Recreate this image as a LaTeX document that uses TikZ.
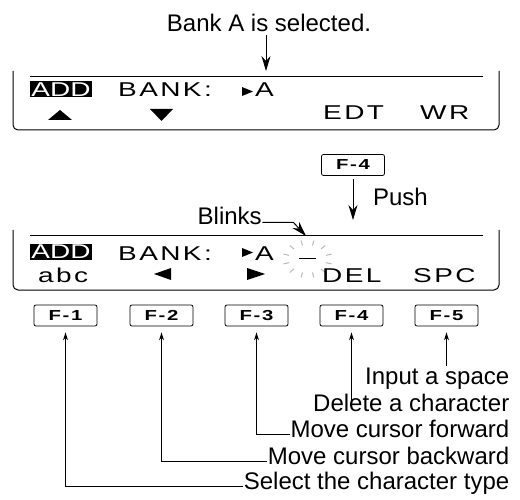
\documentclass[tikz,border=0pt]{standalone}
\usepackage{fontspec}
\setmainfont{Liberation Sans}
\newfontfamily\lcdfont[FakeStretch=1.4,LetterSpace=12]{Liberation Sans}
\newfontfamily\addfont[FakeStretch=1.4]{Liberation Sans}
\usetikzlibrary{positioning, arrows.meta, calc}

\begin{document}
\begin{tikzpicture}[
  x=1pt, y=-1pt,
  >=Stealth,
  note/.style={font=\fontsize{24}{28}\selectfont, inner sep=0.5pt,
               text height=0.72em, text depth=0.2em},
  lcd/.style={font=\lcdfont\fontsize{20}{22}\selectfont,
              inner sep=0pt, anchor=base west},
  addbox/.style={fill=black, text=white, inner sep=0pt,
                 font=\addfont\fontsize{20}{22}\selectfont,
                 minimum width=62pt, minimum height=16pt},
  fkey/.style={draw, rounded corners=2pt, line width=0.8pt,
               minimum width=63pt, minimum height=21pt, inner sep=0pt,
               font=\lcdfont\bfseries\fontsize{14.5}{16}\selectfont},
  frame/.style={line width=1pt, rounded corners=5pt},
  bigarrow/.style={-{Stealth[length=15pt,width=9pt,inset=5pt]}, line width=1pt},
  keyarrow/.style={{Stealth[length=8pt,width=5pt]}-, line width=1pt},
  blinkray/.style={gray!55, line width=1pt}
]
\useasboundingbox (0,0) rectangle (520,500);

%--- Bank A is selected ---
\node[note, anchor=base] (bankA) at (269,32) {Bank A is selected.};
\coordinate (aTip) at (266,71);
\draw[bigarrow] (bankA.south -| aTip) -- (aTip);

%--- First display ---
\draw[frame] (13,71) -- (13,130) -- (499,130) -- (499,71);
\draw[line width=1pt] (30,77) -- (483,77);
\node[addbox] (add1) at (61,89.5) {ADD};
\node[lcd] (bank1) at (118,96.5) {BANK:};
\fill (242,87) -- (253,91.5) -- (242,96) -- cycle;
\node[lcd] (a1) at (255,96.5) {A};
\fill (48,120) -- (72,120) -- (60,110) -- cycle;
\fill (150,109) -- (173,109) -- (161.5,121) -- cycle;
\node[lcd] (edt) at (323,119.5) {EDT};
\node[lcd] (wr)  at (420,119.5) {WR};

%--- Push F-4 ---
\node[fkey] (push4) at (353,165) {F-4};
\coordinate (pushTip) at (353,220);
\draw[bigarrow] ([yshift=-3pt]push4.south) -- (pushTip)
  node[note, pos=0.58, right=19pt] {Push};

%--- Second display ---
\draw[frame] (13,230) -- (13,290) -- (499,290) -- (499,230);
\draw[line width=1pt] (30,236) -- (483,236);
\node[addbox] (add2) at (61,252) {ADD};
\node[lcd] (bank2) at (118,261) {BANK:};
\fill (242,248) -- (253,252.5) -- (242,257) -- cycle;
\node[lcd] (a2) at (255,261) {A};
\coordinate (blink) at (307.5,259);
\draw[line width=1pt] ([xshift=-8.5pt]blink) -- ([xshift=8.5pt]blink);
\foreach \ang in {15,45,...,345}
  \draw[blinkray] ($(blink)+(\ang:19 and 14)$) -- ($(blink)+(\ang:25 and 19)$);
\node[lcd] (abc) at (38,282) {abc};
\fill (154,274) -- (171,268) -- (171,280) -- cycle;
\fill (265,274) -- (247,268) -- (247,280) -- cycle;
\node[lcd] (del) at (322,282) {DEL};
\node[lcd] (spc) at (413,282) {SPC};

% cursor blinks
\node[note, anchor=base west] (blinks) at (197,225) {Blinks};
\coordinate (blinkTip) at (306,236);
\draw[bigarrow] (blinks.east) -- ++(31,0) -- (blinkTip);

%--- Function keys ---
\foreach \k/\xk in {1/65.5, 2/161.5, 3/256.5, 4/351.5, 5/446.5}
  \node[fkey] (f\k) at (\xk,315.5) {F-\k};

\node[note, anchor=base east] (space)  at (510,384)   {Input a space};
\node[note, anchor=base east] (delete) at (510,411)   {Delete a character};
\node[note, anchor=base east] (fwd)    at (510,437.5) {Move cursor forward};
\node[note, anchor=base east] (bwd)    at (510,464.5) {Move cursor backward};
\node[note, anchor=base east] (type)   at (510,489)   {Select the character type};

\draw[keyarrow] ([yshift=-6pt]f5.south) -- ($(f5.south |- space.north)+(0,-10)$);
\draw[keyarrow] ([yshift=-6pt]f4.south) -- (f4.south |- delete.north);
\draw[keyarrow] ([yshift=-6pt]f3.south) |- (fwd.west);
\draw[keyarrow] ([yshift=-6pt]f2.south) |- (bwd.west);
\draw[keyarrow] ([yshift=-6pt]f1.south) |- (type.west);

\end{tikzpicture}
\end{document}
